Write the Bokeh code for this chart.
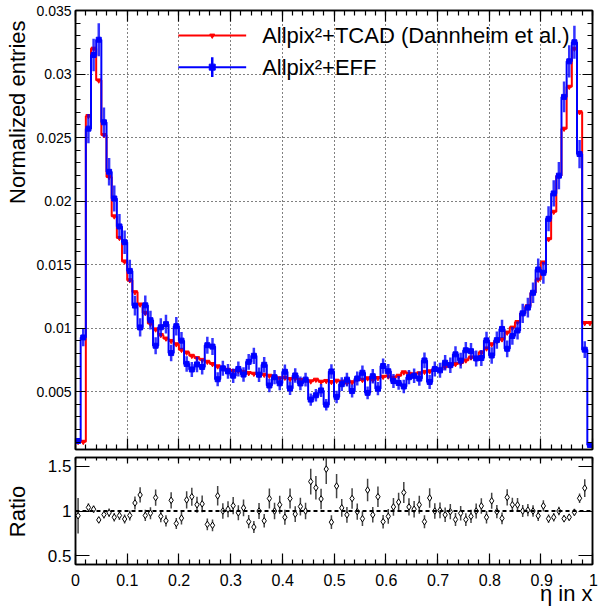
import numpy as np
from bokeh.plotting import figure
from bokeh.layouts import column, row
from bokeh.models import (SingleIntervalTicker, FixedTicker, LinearAxis, Range1d,
                          CustomJSTickFormatter, Span, Label, CustomLabelingPolicy)
from bokeh.embed import file_html
from bokeh.resources import INLINE

# ---------------- data ----------------
n_bins = 100
x_lo, x_hi = 0.0, 1.0
y_lo, y_hi = 0.00044, 0.035
r_lo, r_hi = 0.4, 1.6

x_ticks = [0.0, 0.1, 0.2, 0.3, 0.4, 0.5, 0.6, 0.7, 0.8, 0.9, 1.0]
x_tick_labels = ["0", "0.1", "0.2", "0.3", "0.4", "0.5", "0.6", "0.7", "0.8", "0.9", "1"]

# Allpix^2 + TCAD (red histogram)
tcad = [
    0.00105, 0.00105, 0.0267, 0.0320, 0.0295, 0.0252, 0.0219, 0.0188, 0.0171, 0.01525,
    0.01377, 0.01283, 0.01186, 0.0112, 0.01035, 0.0099, 0.00946, 0.00918, 0.00899, 0.00873,
    0.00829, 0.00808, 0.00782, 0.00764, 0.0075, 0.00735, 0.00717, 0.00699, 0.00683, 0.00672,
    0.00662, 0.00664, 0.00656, 0.00646, 0.00641, 0.00633, 0.00633, 0.00625, 0.00613, 0.00605,
    0.0061, 0.00599, 0.00605, 0.00592, 0.00594, 0.00581, 0.00594, 0.00578, 0.00584, 0.00576,
    0.00586, 0.00578, 0.00568, 0.00574, 0.00599, 0.00592, 0.00605, 0.00594, 0.00607, 0.00617,
    0.0062, 0.0061, 0.00625, 0.00652, 0.00641, 0.00636, 0.00644, 0.00656, 0.0066, 0.00678,
    0.00672, 0.00696, 0.00703, 0.00717, 0.00725, 0.00746, 0.00769, 0.00761, 0.00808, 0.0084,
    0.00873, 0.00899, 0.00912, 0.00965, 0.01004, 0.01048, 0.01116, 0.01173, 0.01278, 0.01382,
    0.01517, 0.017, 0.01916, 0.022, 0.0257, 0.029, 0.032, 0.027, 0.0104, 0.0104,
]

# Allpix^2 + EFF (blue histogram with errors)
eff = [
    0.00111, 0.00926, 0.0257, 0.0315, 0.0327, 0.0262, 0.0223, 0.0202, 0.0180, 0.01676,
    0.0145, 0.01177, 0.01005, 0.01179, 0.01062, 0.00861, 0.01006, 0.01031, 0.00803, 0.01015,
    0.00901, 0.00718, 0.00674, 0.00714, 0.00694, 0.00865, 0.00854, 0.00597, 0.00683, 0.00659,
    0.00625, 0.00678, 0.00634, 0.00734, 0.00782, 0.00633, 0.00711, 0.00548, 0.00613, 0.00565,
    0.00656, 0.00525, 0.00627, 0.00564, 0.00594, 0.00437, 0.00471, 0.00509, 0.00397, 0.00658,
    0.00458, 0.00558, 0.00594, 0.00504, 0.00603, 0.00648, 0.0049, 0.00621, 0.00523, 0.00701,
    0.0066, 0.00583, 0.00568, 0.0054, 0.00613, 0.00624, 0.00602, 0.00745, 0.00576, 0.00678,
    0.00667, 0.00727, 0.00708, 0.00793, 0.00744, 0.00825, 0.00818, 0.00761, 0.00764, 0.00903,
    0.00784, 0.00905, 0.00993, 0.00837, 0.00938, 0.00981, 0.01116, 0.01161, 0.01278, 0.01461,
    0.01435, 0.0186, 0.0206, 0.022, 0.0282, 0.0310, 0.0325, 0.0237, 0.0083, 0.0008,
]
eff_err = [
    0.00024, 0.00069, 0.00115, 0.00128, 0.0013, 0.00117, 0.00108, 0.00102, 0.00097, 0.00093,
    0.00087, 0.00078, 0.00072, 0.00078, 0.00074, 0.00067, 0.00072, 0.00073, 0.00065, 0.00073,
    0.00068, 0.00061, 0.00059, 0.00061, 0.0006, 0.00067, 0.00067, 0.00056, 0.00059, 0.00058,
    0.00057, 0.00059, 0.00057, 0.00062, 0.00064, 0.00057, 0.00061, 0.00053, 0.00056, 0.00054,
    0.00058, 0.00052, 0.00057, 0.00054, 0.00055, 0.00048, 0.00049, 0.00051, 0.00045, 0.00058,
    0.00049, 0.00054, 0.00055, 0.00051, 0.00056, 0.00058, 0.0005, 0.00057, 0.00052, 0.0006,
    0.00058, 0.00055, 0.00054, 0.00053, 0.00056, 0.00057, 0.00056, 0.00062, 0.00055, 0.00059,
    0.00059, 0.00061, 0.00061, 0.00064, 0.00062, 0.00065, 0.00065, 0.00063, 0.00063, 0.00068,
    0.00064, 0.00068, 0.00072, 0.00066, 0.0007, 0.00071, 0.00076, 0.00078, 0.00081, 0.00087,
    0.00086, 0.00098, 0.00103, 0.00107, 0.00121, 0.00127, 0.0013, 0.00111, 0.00066, 0.0002,
]

# Ratio pad (TCAD / EFF); nan = outside the drawn range
nan = float("nan")
ratio = [
    0.947, nan, 1.04, 1.02, 0.90, 0.96, 0.98, 0.93, 0.95, 0.91,
    0.95, 1.09, 1.18, 0.95, 0.975, 1.15, 0.94, 0.89, 1.12, 0.86,
    0.92, 1.125, 1.16, 1.07, 1.08, 0.85, 0.84, 1.17, 1.0, 1.02,
    1.06, 0.98, 1.035, 0.88, 0.82, 1.0, 0.89, 1.14, 1.0, 1.07,
    0.93, 1.14, 0.965, 1.05, 1.0, 1.33, 1.26, 1.135, 1.47, 0.875,
    1.28, 1.035, 0.957, 1.14, 0.993, 0.914, 1.235, 0.957, 1.16, 0.88,
    0.94, 1.046, 1.10, 1.207, 1.046, 1.02, 1.07, 0.88, 1.146, 1.0,
    1.007, 0.957, 0.993, 0.904, 0.975, 0.904, 0.94, 1.0, 1.057, 0.93,
    1.114, 0.993, 0.918, 1.153, 1.07, 1.068, 1.0, 1.01, 1.0, 0.946,
    1.057, 0.914, 0.93, 1.0, 0.914, 0.93, 0.986, 1.143, 1.257, nan,
]
ratio_err = [
    0.20, 0.0, 0.047, 0.041, 0.036, 0.043, 0.047, 0.047, 0.051, 0.051,
    0.057, 0.072, 0.085, 0.063, 0.068, 0.09, 0.067, 0.063, 0.091, 0.062,
    0.07, 0.096, 0.10, 0.091, 0.093, 0.066, 0.066, 0.109, 0.087, 0.09,
    0.097, 0.085, 0.093, 0.074, 0.067, 0.09, 0.076, 0.111, 0.092, 0.102,
    0.083, 0.113, 0.088, 0.10, 0.093, 0.145, 0.132, 0.115, 0.168, 0.078,
    0.136, 0.10, 0.089, 0.115, 0.092, 0.082, 0.127, 0.087, 0.116, 0.076,
    0.083, 0.099, 0.105, 0.118, 0.096, 0.093, 0.10, 0.073, 0.109, 0.087,
    0.089, 0.081, 0.085, 0.073, 0.081, 0.072, 0.075, 0.083, 0.087, 0.07,
    0.09, 0.075, 0.066, 0.091, 0.079, 0.078, 0.068, 0.068, 0.064, 0.057,
    0.063, 0.048, 0.047, 0.049, 0.039, 0.038, 0.039, 0.054, 0.10, 0.0,
]

legend_labels = ["Allpix\u00b2+TCAD (Dannheim et al.)", "Allpix\u00b2+EFF"]
x_title = "\u03b7 in x"
y_title = "Normalized entries"
r_title = "Ratio"

# ---------------- layout / styling ----------------
FONT = "Liberation Sans"
TITLE_PX = 22
TICK_PX = 16
RED = "#ff0000"
BLUE = "#0000ff"
PAGE_W, PAGE_H = 598, 607
STRIP_W = 30                      # left strip holding the vertical titles
MAIN_W = PAGE_W - STRIP_W
LEFT, RIGHT = 45, 5               # borders of the pads (frame starts at x = 75)
FRAME_W = MAIN_W - LEFT - RIGHT
UP_H, UP_TOP, UP_BOT = 453, 10, 2
LO_H, LO_TOP, LO_BOT = 115, 0, 1
BOT_H = PAGE_H - UP_H - LO_H      # bottom strip: x tick labels + x title
FRAME_H_UP = UP_H - UP_TOP - UP_BOT
MID_SHIFT = 0.345 * TITLE_PX      # distance from text middle to its baseline

edges = np.linspace(x_lo, x_hi, n_bins + 1)
centers = 0.5 * (edges[:-1] + edges[1:])
eff_a = np.array(eff)
err_a = np.array(eff_err)
rat_a = np.array(ratio)
rerr_a = np.array(ratio_err)

fmt = CustomJSTickFormatter(code="return String(parseFloat(tick.toFixed(4)));")
HIDE_JS = """
try {
  const all = Array.from(indices);
  for (const i of all) { indices.unset(i); }
} catch (e) {}
return indices;
"""


def px_x(px):
    """horizontal pixel offset from the frame's left edge -> data x"""
    return x_lo + px / FRAME_W * (x_hi - x_lo)


def style_axis(ax, tick_in, minor_in, labels=True, size="14px", standoff=4):
    ax.axis_line_width = 1.5
    ax.axis_line_color = "black"
    ax.major_tick_in = tick_in
    ax.major_tick_out = 0
    ax.minor_tick_in = minor_in
    ax.minor_tick_out = 0
    ax.major_tick_line_width = 1.2
    ax.minor_tick_line_width = 1.2
    ax.major_tick_line_color = "black"
    ax.minor_tick_line_color = "black"
    if labels:
        ax.major_label_text_font = FONT
        ax.major_label_text_font_size = size
        ax.major_label_text_color = "black"
        ax.major_label_standoff = standoff
        ax.formatter = fmt
    else:
        ax.major_label_text_font_size = "1px"
        ax.major_label_standoff = 0
        ax.major_label_policy = CustomLabelingPolicy(code=HIDE_JS)


def blank_figure(w, h):
    f = figure(width=w, height=h, x_range=Range1d(0, w), y_range=Range1d(0, h),
               output_backend="svg", toolbar_location=None,
               min_border_left=0, min_border_right=0, min_border_top=0, min_border_bottom=0,
               x_axis_location=None, y_axis_location=None)
    f.outline_line_color = None
    f.xgrid.visible = False
    f.ygrid.visible = False
    f.frame_align = False          # keep the frame equal to the whole strip
    return f


def text_label(text, x, y, align, angle=0.0, size=TITLE_PX):
    return Label(x=x, y=y, text=text, text_font=FONT, text_font_size=f"{size}px",
                 text_color="black", text_align=align, text_baseline="middle",
                 angle=angle)


# ---------------- upper pad ----------------
p = figure(width=MAIN_W, height=UP_H, x_range=Range1d(x_lo, x_hi), y_range=Range1d(y_lo, y_hi),
           output_backend="svg", toolbar_location=None,
           min_border_left=LEFT, min_border_right=RIGHT, min_border_top=UP_TOP,
           min_border_bottom=UP_BOT, x_axis_location=None, y_axis_location=None)
p.outline_line_color = "black"
p.outline_line_width = 1.5

xt = SingleIntervalTicker(interval=0.1, num_minor_ticks=5)
yt = SingleIntervalTicker(interval=0.005, num_minor_ticks=5)

ax_b = LinearAxis(ticker=xt)
style_axis(ax_b, 11, 5, labels=False)
ax_t = LinearAxis(ticker=xt)
style_axis(ax_t, 11, 5, labels=False)
ax_l = LinearAxis(ticker=yt)
style_axis(ax_l, 10, 5, labels=True, size="14px", standoff=4)
ax_r = LinearAxis(ticker=yt)
style_axis(ax_r, 10, 5, labels=False)
p.add_layout(ax_b, "below")
p.add_layout(ax_t, "above")
p.add_layout(ax_l, "left")
p.add_layout(ax_r, "right")

p.xgrid.ticker = xt
p.ygrid.ticker = yt
for g in (p.xgrid, p.ygrid):
    g.grid_line_color = "black"
    g.grid_line_dash = "1 3"
    g.grid_line_width = 1

# red histogram
step_x = list(edges)
p.step(x=step_x, y=list(tcad) + [tcad[-1]], mode="after", line_color=RED, line_width=2)
p.scatter(x=centers, y=tcad, marker="inverted_triangle", size=5, color=RED)

# blue histogram with errors
p.step(x=step_x, y=list(eff) + [eff[-1]], mode="after", line_color=BLUE, line_width=2)
p.segment(x0=centers, x1=centers, y0=eff_a - err_a, y1=eff_a + err_a,
          line_color=BLUE, line_width=2.5, line_alpha=0.8)
p.scatter(x=centers, y=eff, marker="square", size=5, color=BLUE)


# legend (positions as fractions of the frame)
def fy(f):
    return y_lo + f * (y_hi - y_lo)


leg_y = [fy(0.943), fy(0.871)]
leg_x0, leg_x1, leg_xm, leg_xt = px_x(103), px_x(171), px_x(137), px_x(187)
p.segment(x0=[leg_x0], x1=[leg_x1], y0=[leg_y[0]], y1=[leg_y[0]], line_color=RED, line_width=2)
p.scatter(x=[leg_xm], y=[leg_y[0]], marker="inverted_triangle", size=5, color=RED)
p.segment(x0=[leg_x0], x1=[leg_x1], y0=[leg_y[1]], y1=[leg_y[1]], line_color=BLUE, line_width=2)
dy = 10 / FRAME_H_UP * (y_hi - y_lo)
p.segment(x0=[leg_xm], x1=[leg_xm], y0=[leg_y[1] - dy], y1=[leg_y[1] + dy], line_color=BLUE, line_width=2.5)
p.scatter(x=[leg_xm], y=[leg_y[1]], marker="square", size=6, color=BLUE)
for lbl, yy in zip(legend_labels, leg_y):
    p.add_layout(Label(x=leg_xt, y=yy, text=lbl, text_font=FONT, text_font_size="22px",
                       text_baseline="middle", text_align="left", text_color="black"))

# ---------------- lower pad ----------------
q = figure(width=MAIN_W, height=LO_H, x_range=p.x_range, y_range=Range1d(r_lo, r_hi),
           output_backend="svg", toolbar_location=None,
           min_border_left=LEFT, min_border_right=RIGHT, min_border_top=LO_TOP,
           min_border_bottom=LO_BOT, x_axis_location=None, y_axis_location=None)
q.outline_line_color = "black"
q.outline_line_width = 1.5
q.xgrid.visible = False
q.ygrid.visible = False

rt = FixedTicker(ticks=[0.5, 1.0, 1.5], minor_ticks=[])
qb = LinearAxis(ticker=xt)
style_axis(qb, 11, 5, labels=False)
qt = LinearAxis(ticker=xt)
style_axis(qt, 6, 3, labels=False)
ql = LinearAxis(ticker=rt)
style_axis(ql, 14, 0, labels=True, size="17px", standoff=4)
qr = LinearAxis(ticker=rt)
style_axis(qr, 14, 0, labels=False)
q.add_layout(qb, "below")
q.add_layout(qt, "above")
q.add_layout(ql, "left")
q.add_layout(qr, "right")

q.add_layout(Span(location=1.0, dimension="width", line_color="black", line_dash="4 3", line_width=2))

ok = ~np.isnan(rat_a)
q.segment(x0=centers[ok], x1=centers[ok], y0=(rat_a - rerr_a)[ok], y1=(rat_a + rerr_a)[ok],
          line_color="#444444", line_width=1.5)
q.scatter(x=centers[ok], y=rat_a[ok], marker="diamond", size=6.5, fill_color="white",
          line_color="black", line_width=1)

# ---------------- title strips (pixel coordinates, y upwards) ----------------
# vertical titles: baseline 25 px from the page's left edge
side = blank_figure(STRIP_W, PAGE_H)
side.add_layout(text_label(y_title, 25 - MID_SHIFT, PAGE_H - 20, "right", angle=np.pi / 2))
side.add_layout(text_label(r_title, 25 - MID_SHIFT, PAGE_H - 511, "center", angle=np.pi / 2))

# bottom strip: x tick labels (centred 10 px below the ratio frame) and x title
bottom = blank_figure(MAIN_W, BOT_H)
label_y = BOT_H - (LO_BOT + 10)
for v, t in zip(x_ticks, x_tick_labels):
    bottom.add_layout(text_label(t, LEFT + (v - x_lo) / (x_hi - x_lo) * FRAME_W, label_y,
                                 "center", size=TICK_PX))
bottom.add_layout(text_label(x_title, MAIN_W - 6, 6 + MID_SHIFT, "right"))

layout = row(side, column(p, q, bottom, spacing=0), spacing=0)
open("out.html", "w").write(file_html(layout, INLINE))
